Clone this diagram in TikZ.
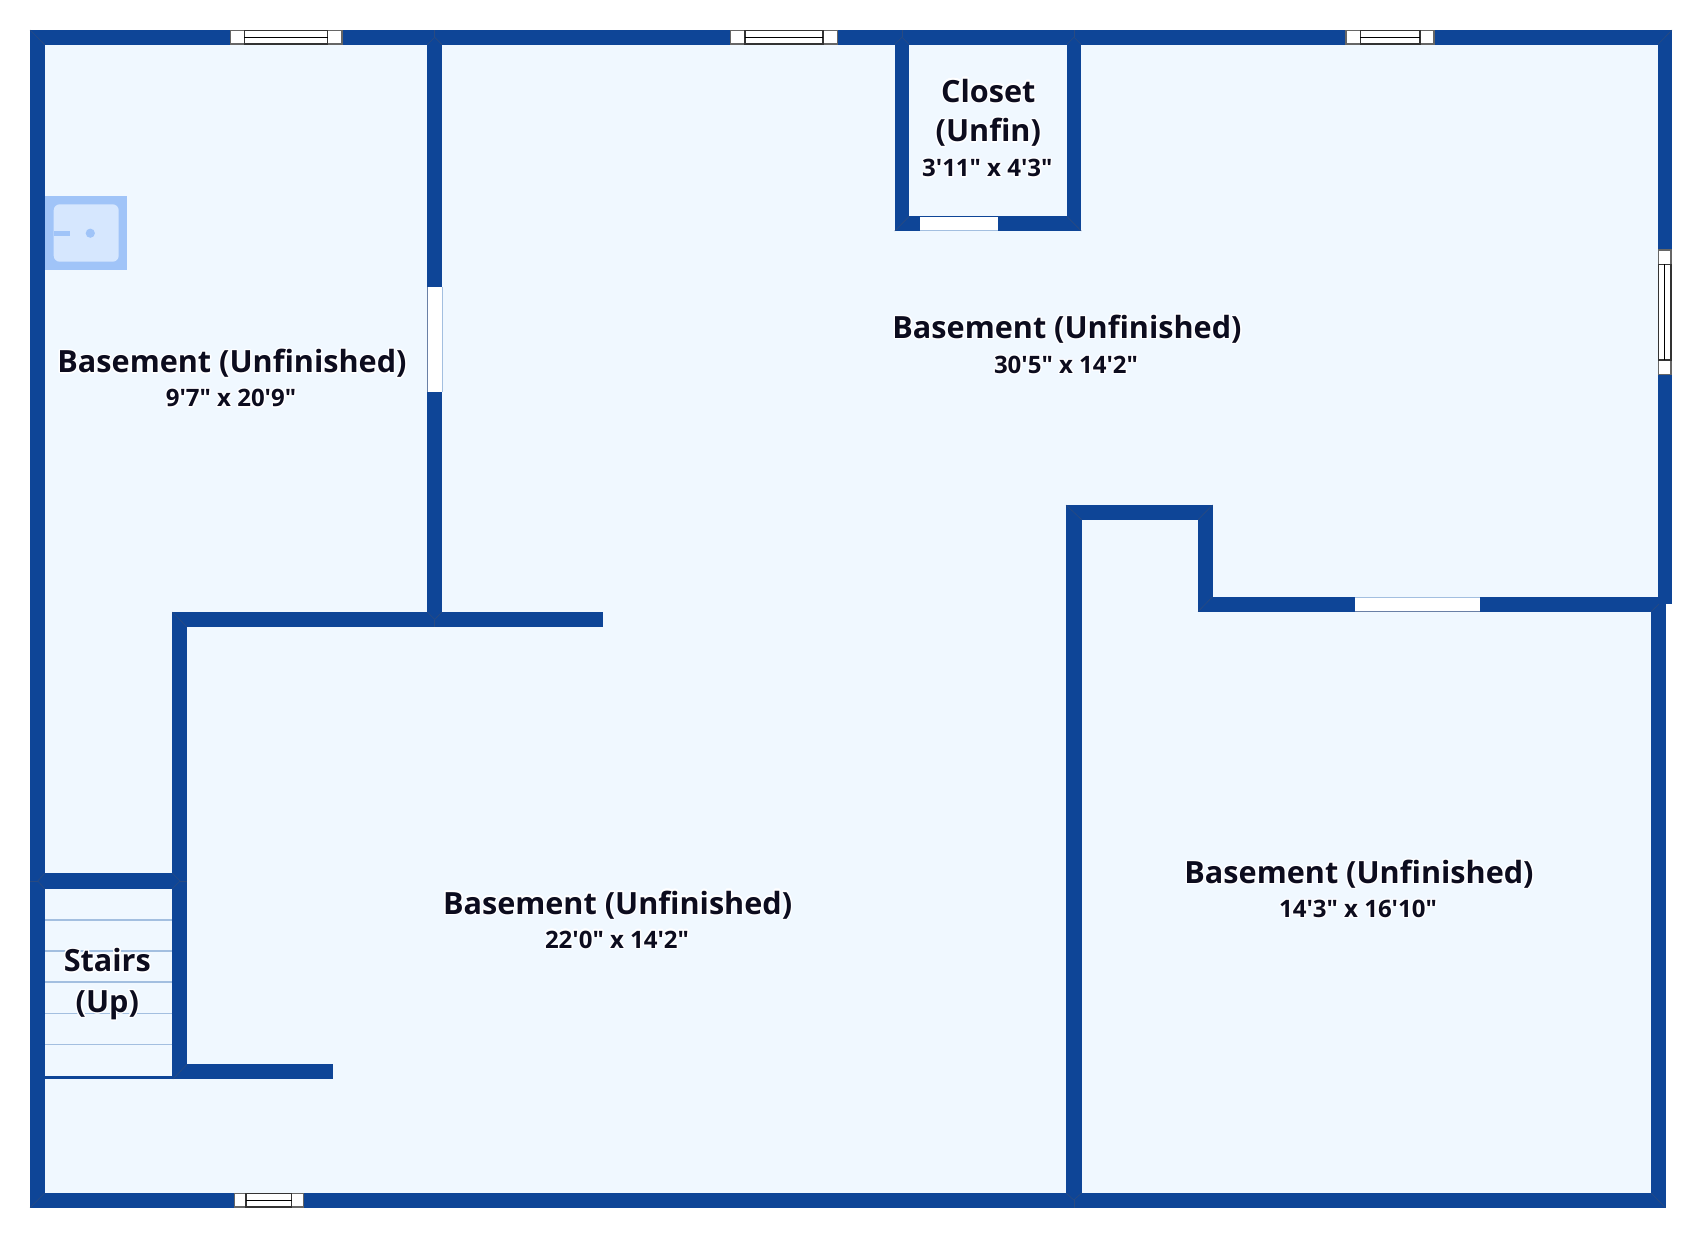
\documentclass[tikz,border=0pt]{standalone}
\usepackage{fontspec}
\usepackage[copies]{contour}
\newfontfamily\labfont{Open Sans}
\contournumber{24}
\contourlength{1.3bp}
\definecolor{wallblue}{HTML}{0E4597}
\definecolor{seamblue}{HTML}{2A4A80}
\definecolor{floorblue}{HTML}{F0F8FF}
\definecolor{sinkout}{HTML}{A0C4F8}
\definecolor{sinkin}{HTML}{D6E7FE}
\definecolor{treadblue}{HTML}{A3BFE0}
\definecolor{inkdark}{HTML}{0C0C1E}
\tikzset{
  wall/.style={fill=wallblue,draw=none},
  seam/.style={draw=seamblue,line width=0.6bp},
  opening/.style={fill=white,draw=none},
  tread/.style={draw=treadblue,line width=1.6bp},
  winframe/.style={fill=white,draw=black!60,line width=1.1bp},
  winpane/.style={fill=white,draw=black!80,line width=1.1bp},
  winbar/.style={draw=black,line width=0.8bp},
  biglab/.style={font=\labfont\bfseries\fontsize{30.6bp}{36bp}\selectfont,text=inkdark,anchor=base,inner sep=0pt},
  smalllab/.style={font=\labfont\bfseries\fontsize{24bp}{28bp}\selectfont,text=inkdark,anchor=base,inner sep=0pt}
}
\newcommand{\hwindow}[6]{%
  \fill[white] (#1,#5) rectangle (#4,#6);
  \draw[winframe] (#1,#5) rectangle (#4,#6);
  \draw[winpane] (#2,#5) rectangle (#3,#6);
  \draw[winbar] (#2,{(#5+#6)/2}) -- (#3,{(#5+#6)/2});
}
\newcommand{\vwindow}[6]{%
  \draw[winframe] (#5,#1) rectangle (#6,#4);
  \draw[winpane] (#5,#2) rectangle (#6,#3);
  \draw[winbar] ({(#5+#6)/2},#2) -- ({(#5+#6)/2},#3);
}
\begin{document}
\begin{tikzpicture}[x=1bp,y=-1bp]
\useasboundingbox (0,0) rectangle (1702,1238);
\fill[white] (0,0) rectangle (1702,1238);
% floor
\fill[floorblue] (37,37) rectangle (1660,1200);
% sink
\fill[sinkout] (44.7,196) rectangle (127,270);
\fill[sinkin,rounded corners=6bp] (53.7,204.3) rectangle (118.7,261.7);
\fill[sinkout] (53.7,230.6) rectangle (69.7,235.8);
\fill[sinkout] (90.3,233.2) circle (4.6bp);
% stair treads
\foreach \yy in {919.7,950.7,982,1013.3,1044.3}
  \draw[tread] (44.7,\yy) -- (172,\yy);
% walls
\fill[wall] (30,30) rectangle (1672,44.6);
\fill[wall] (30,30) rectangle (44.7,1207.7);
\fill[wall] (30,1193) rectangle (1665.5,1207.7);
\fill[wall] (1657.7,30) rectangle (1672,604);
\fill[wall] (1651,604) rectangle (1665.5,1207.7);
\fill[wall] (1198,596.7) rectangle (1659,611.7);
\fill[wall] (1066,505) rectangle (1212.5,519.7);
\fill[wall] (1066,505) rectangle (1081.7,1200);
\fill[wall] (1198,505) rectangle (1212.5,611.7);
\fill[wall] (894.7,37) rectangle (909.3,231);
\fill[wall] (1066.7,37) rectangle (1081.3,231);
\fill[wall] (894.7,216.3) rectangle (1081.3,231);
\fill[wall] (427.3,37) rectangle (442,627);
\fill[wall] (172.3,612) rectangle (603.3,627);
\fill[wall] (172.3,612) rectangle (187,1079);
\fill[wall] (172.3,1064.3) rectangle (332.7,1079);
\fill[wall] (37.7,873.3) rectangle (187,888.7);
\fill[wall] (37.7,1075.7) rectangle (173,1079);
% floor trim: wall tops of stair landing
\draw[seam] (30,30) -- (44.7,44.6);
\draw[seam] (1672,30) -- (1657.7,44.6);
\draw[seam] (30,1207.7) -- (44.7,1193);
\draw[seam] (1665.5,1207.7) -- (1651,1193);
\draw[seam] (427.3,44.6) -- (434.7,37.3) -- (442,44.6);
\draw[seam] (434.7,30) -- (434.7,37.3);
\draw[seam] (894.7,44.6) -- (902,37.3) -- (909.3,44.6);
\draw[seam] (902,30) -- (902,37.3);
\draw[seam] (1066.7,44.6) -- (1074,37.3) -- (1081.3,44.6);
\draw[seam] (1074,30) -- (1074,37.3);
\draw[seam] (894.7,231) -- (909.3,216.3);
\draw[seam] (1081.3,231) -- (1066.7,216.3);
\draw[seam] (1066,505) -- (1081.7,519.7);
\draw[seam] (1212.5,505) -- (1198,519.7);
\draw[seam] (1198,611.7) -- (1212.5,596.7);
\draw[seam] (1651,611.7) -- (1659,604);
\draw[seam] (172.3,612) -- (187,627);
\draw[seam] (427.3,612) -- (434.7,619.5) -- (442,612);
\draw[seam] (434.7,619.5) -- (434.7,627);
\draw[seam] (1066,1193) -- (1073.8,1200) -- (1081.7,1193);
\draw[seam] (1073.8,1200) -- (1073.8,1207.7);
\draw[seam] (44.7,873.3) -- (37.7,881) -- (44.7,888.7);
\draw[seam] (30,881) -- (37.7,881);
\draw[seam] (172.3,873.3) -- (180,881) -- (172.3,888.7);
\draw[seam] (180,881) -- (187,881);
\draw[seam] (173,1079) -- (187,1064.3);
% openings
\fill[opening] (427.3,287.3) rectangle (442,392.3);
\draw[draw=treadblue,line width=0.8bp] (442,287.3) -- (442,392.3);
\draw[draw=seamblue!70,line width=0.6bp] (427.6,287.3) -- (427.6,392.3);
\fill[opening] (920.3,216.6) rectangle (998,230.8);
\draw[draw=treadblue,line width=0.8bp] (920.3,230.8) -- (998,230.8);
\fill[opening] (1354.6,597) rectangle (1479.6,611.5);
\draw[draw=treadblue,line width=0.8bp] (1354.6,597) -- (1479.6,597);
\draw[draw=seamblue!70,line width=0.6bp] (1354.6,611.5) -- (1479.6,611.5);
% windows
\hwindow{230.7}{244.3}{327.7}{342}{30.7}{44}
\hwindow{730.7}{745}{823}{837.3}{30.7}{44}
\hwindow{1346}{1360.3}{1420}{1434}{30.7}{44}
\hwindow{234.7}{246}{291.7}{303.3}{1193.7}{1207}
\vwindow{250}{264.3}{360}{374.7}{1658.3}{1671}
% labels
\node[biglab] (roomA) at (232,372.7) {\contour{white}{Basement (Unfinished)}};
\node[smalllab] (sizeA) at (231,406.7) {\contour{white}{9'7" x 20'9"}};
\node[biglab] (roomB) at (1067,338.6) {\contour{white}{Basement (Unfinished)}};
\node[smalllab] (sizeB) at (1066,373.4) {\contour{white}{30'5" x 14'2"}};
\node[biglab] (roomC) at (617.6,914) {\contour{white}{Basement (Unfinished)}};
\node[smalllab] (sizeC) at (617,948) {\contour{white}{22'0" x 14'2"}};
\node[biglab] (roomD) at (1359,883.5) {\contour{white}{Basement (Unfinished)}};
\node[smalllab] (sizeD) at (1358,917.5) {\contour{white}{14'3" x 16'10"}};
\node[biglab] (closetA) at (988.3,102) {\contour{white}{Closet}};
\node[biglab] (closetB) at (988.3,141.7) {\contour{white}{(Unfin)}};
\node[smalllab] (sizeE) at (987.3,176.7) {\contour{white}{3'11" x 4'3"}};
\node[biglab] (stairsA) at (107.3,971.7) {\contour{white}{Stairs}};
\node[biglab] (stairsB) at (107.3,1012.3) {\contour{white}{(Up)}};
\end{tikzpicture}
\end{document}
